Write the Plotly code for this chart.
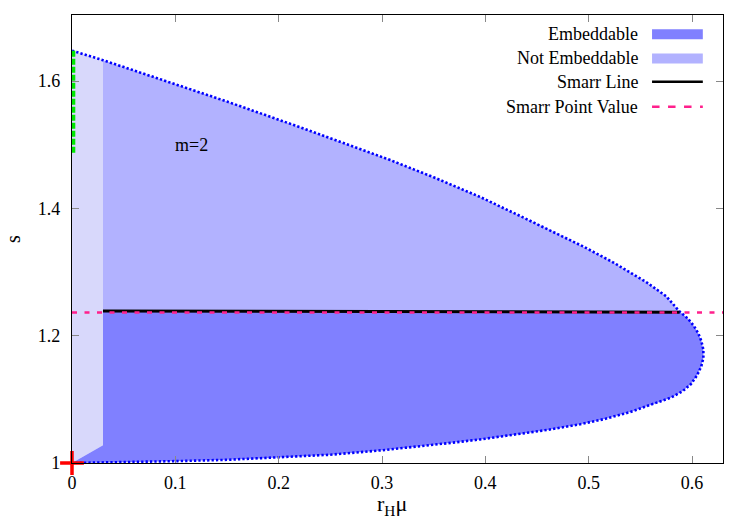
import plotly.graph_objects as go

# ---- data ----
# upper branch of the boundary (r_H*mu, s), from x=0 to the Smarr end point
upper_x = [0.0, 0.030, 0.080, 0.150, 0.220, 0.308, 0.350, 0.395, 0.430, 0.460,
           0.495, 0.524, 0.556, 0.575, 0.588]
upper_s = [1.648, 1.633, 1.606, 1.568, 1.528, 1.476, 1.449, 1.418, 1.391, 1.368,
           1.340, 1.315, 1.284, 1.262, 1.238]
# lower branch, from the Smarr end point round the bulge back to (0, 1)
lower_x = [0.588, 0.596, 0.602, 0.606, 0.609, 0.611, 0.611, 0.609, 0.605, 0.599,
           0.591, 0.580, 0.565, 0.540, 0.515, 0.492, 0.460, 0.427, 0.395, 0.363,
           0.330, 0.300, 0.250, 0.200, 0.150, 0.102, 0.050, 0.0]
lower_s = [1.238, 1.227, 1.215, 1.204, 1.192, 1.178, 1.165, 1.152, 1.138, 1.124,
           1.113, 1.103, 1.094, 1.080, 1.069, 1.061, 1.052, 1.044, 1.037, 1.031,
           1.025, 1.020, 1.013, 1.0085, 1.005, 1.003, 1.001, 1.0]
# Smarr line
smarr_x = [0.030, 0.588]
smarr_s = [1.239, 1.237]
smarr_point = 1.2365
# cut-off of the shaded region near x=0
cut_x = 0.030
cut_s_low = 1.028
cut_s_high = 1.633
# green segment on s axis
green_x = [0.0015, 0.0015]
green_s = [1.648, 1.485]
# red cross point
cross_x = [0.0]
cross_s = [1.0]

x_ticks = [0, 0.1, 0.2, 0.3, 0.4, 0.5, 0.6]
y_ticks = [1, 1.2, 1.4, 1.6]

C_EMB = "rgb(128,128,255)"
C_NOT = "rgb(178,178,255)"
C_LIGHT = "rgb(216,216,251)"
C_PINK = "rgb(255,32,140)"
FONT = "Liberation Serif, Times New Roman, Times, serif"

fig = go.Figure()

# very light strip near x=0
fig.add_trace(go.Scatter(
    x=[0.0, cut_x, cut_x, upper_x[0]],
    y=[lower_s[-1], cut_s_low, cut_s_high, upper_s[0]],
    fill="toself", fillcolor=C_LIGHT, mode="none", hoverinfo="skip", showlegend=False))

# not embeddable: between smarr line and upper branch
ne_x = [smarr_x[0], smarr_x[1]] + [x for x in reversed(upper_x) if x >= cut_x]
ne_s = [smarr_s[0], smarr_s[1]] + [s for x, s in zip(reversed(upper_x), reversed(upper_s)) if x >= cut_x]
fig.add_trace(go.Scatter(x=ne_x, y=ne_s, fill="toself", fillcolor=C_NOT, mode="none",
                         hoverinfo="skip", showlegend=False))

# embeddable: below the smarr line
emb_x = list(reversed(lower_x)) + [smarr_x[0], cut_x]
emb_s = list(reversed(lower_s)) + [smarr_s[0], cut_s_low]
fig.add_trace(go.Scatter(x=emb_x, y=emb_s, fill="toself", fillcolor=C_EMB, mode="none",
                         hoverinfo="skip", showlegend=False))

# boundary dotted curve
fig.add_trace(go.Scatter(x=upper_x + lower_x[1:], y=upper_s + lower_s[1:], mode="lines",
                         line=dict(color="#0000ff", width=2.6, dash="2.3px,2.1px"),
                         hoverinfo="skip", showlegend=False))

# Smarr line
fig.add_trace(go.Scatter(x=smarr_x, y=smarr_s, mode="lines",
                         line=dict(color="black", width=3), showlegend=False))
# Smarr point value
fig.add_trace(go.Scatter(x=[0, 0.63], y=[smarr_point, smarr_point], mode="lines",
                         line=dict(color=C_PINK, width=2.5, dash="5px,7.5px"),
                         showlegend=False))

# green segment
fig.add_trace(go.Scatter(x=green_x, y=green_s, mode="lines",
                         line=dict(color="rgb(0,230,0)", width=3.5, dash="6px,2px"),
                         showlegend=False, cliponaxis=False))
# red cross
fig.add_trace(go.Scatter(x=cross_x, y=cross_s, mode="markers",
                         marker=dict(symbol="cross-thin", size=17,
                                     line=dict(color="red", width=3.5)),
                         showlegend=False, cliponaxis=False))

fig.add_annotation(x=0.116, y=1.50, text="m=2", showarrow=False,
                   font=dict(family=FONT, size=18, color="black"))

# x-axis title placed as text under the axis
fig.add_annotation(xref="paper", yref="paper", x=0.492, y=-0.094, text="r<sub>H</sub>μ",
                   showarrow=False, xanchor="center", yanchor="middle", borderpad=0,
                   font=dict(family=FONT, size=22, color="black"))

# manual legend (gnuplot style: text on left, sample on right)
leg_rows = [
    ("Embeddable", "fill", C_EMB, 0.957),
    ("Not Embeddable", "fill", C_NOT, 0.903),
    ("Smarr Line", "line", "black", 0.851),
    ("Smarr Point Value", "dash", C_PINK, 0.795),
]
for label, kind, col, yy in leg_rows:
    fig.add_annotation(xref="paper", yref="paper", x=0.873, y=yy, text=label,
                       showarrow=False, xanchor="right", yanchor="middle",
                       font=dict(family=FONT, size=18, color="black"))
    if kind == "fill":
        fig.add_shape(type="rect", xref="paper", yref="paper", x0=0.891, x1=0.969,
                      y0=yy - 0.011, y1=yy + 0.011, fillcolor=col, line=dict(width=0))
    elif kind == "line":
        fig.add_shape(type="line", xref="paper", yref="paper", x0=0.891, x1=0.969,
                      y0=yy, y1=yy, line=dict(color=col, width=2.5))
    else:
        fig.add_shape(type="line", xref="paper", yref="paper", x0=0.891, x1=0.969,
                      y0=yy, y1=yy, line=dict(color=col, width=2.5, dash="7.5px,8.5px"))

axis_common = dict(showgrid=False, zeroline=False, showline=True, linecolor="black",
                   linewidth=1.3, mirror="allticks", ticks="inside", ticklen=7,
                   tickcolor="#888888", tickwidth=1, automargin=False,
                   tickfont=dict(family=FONT, size=18, color="black"))
fig.update_xaxes(range=[0, 0.63], tickvals=x_ticks, ticktext=["0", "0.1", "0.2", "0.3", "0.4", "0.5", "0.6"],
                 ticklabelstandoff=3, **axis_common)
fig.update_yaxes(range=[1, 1.704], tickvals=y_ticks, ticktext=["1", "1.2", "1.4", "1.6"],
                 title=dict(text="s", font=dict(family=FONT, size=20, color="black"),
                            standoff=11),
                 ticklabelstandoff=7,
                 **axis_common)

fig.update_layout(width=750, height=525, margin=dict(l=72, r=27, t=15, b=62),
                  plot_bgcolor="white", paper_bgcolor="white", showlegend=False,
                  font=dict(family=FONT))

fig.write_html("out.html")
